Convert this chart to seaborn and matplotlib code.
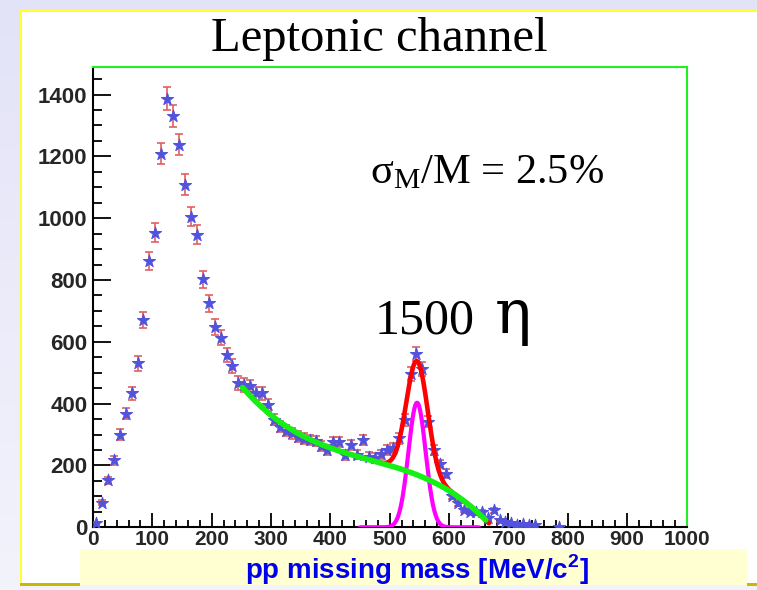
import numpy as np
import pandas as pd
import matplotlib
matplotlib.use("Agg")
import matplotlib.pyplot as plt
import seaborn as sns
from matplotlib.patches import Rectangle
from matplotlib.ticker import MultipleLocator
from matplotlib.colors import LinearSegmentedColormap

# ---- histogram: pp missing mass, 10 MeV bins (bin centre, counts) ----
bin_centers = [5, 15, 25, 35, 45, 55, 65, 75, 85, 95,
               105, 115, 125, 135, 145, 155, 165, 175, 185, 195,
               205, 215, 225, 235, 245, 255, 265, 275, 285, 295,
               305, 315, 325, 335, 345, 355, 365, 375, 385, 395,
               405, 415, 425, 435, 445, 455, 465, 475, 485, 495,
               505, 515, 525, 535, 545, 555, 565, 575, 585, 595,
               605, 615, 625, 635, 645, 655, 665, 675, 685, 695,
               705, 715, 725, 735, 745, 785]
counts = [14, 80, 152, 217, 300, 368, 434, 530, 672, 862,
          953, 1209, 1387, 1330, 1238, 1108, 1005, 946, 802, 725,
          649, 613, 557, 522, 467, 460, 456, 434, 434, 396,
          348, 326, 312, 304, 293, 287, 282, 280, 262, 250,
          276, 276, 234, 266, 235, 283, 228, 224, 236, 251,
          256, 288, 347, 495, 561, 511, 342, 250, 205, 174,
          100, 78, 56, 50, 48, 50, 29, 55, 23, 17,
          14, 6, 12, 6, 6, 1]

# ---- fit: polynomial background + gaussian eta peak ----
bkg_x = [253, 301, 349, 405, 461, 495, 540, 574, 619, 664]
bkg_y = [453, 357, 298, 255, 223, 206, 172, 147, 87, 23]
fit_range = (252, 667)
eta_mass = 546.0
total_amp, total_sigma = 368.0, 18.0      # red: background + signal
signal_amp, signal_sigma = 403.0, 14.5    # magenta: signal only
signal_range = (450, 650)

x_ticks = [0, 100, 200, 300, 400, 500, 600, 700, 800, 900, 1000]
x_tick_labels = ["0", "100", "200", "300", "400", "500", "600", "700", "800", "900", "1000"]
y_ticks = [0, 200, 400, 600, 800, 1000, 1200, 1400]
y_tick_labels = ["0", "200", "400", "600", "800", "1000", "1200", "1400"]

title = "Leptonic channel"
x_label = r"pp missing mass [MeV/c$^\mathregular{2}$]"
resolution_text = r"$\mathregular{\sigma_M}$/M = 2.5%"
yield_number = "1500"
yield_symbol = "η"

W, H = 757, 590
sns.set_theme(style="white")
plt.rcParams["font.family"] = ["Liberation Sans", "DejaVu Sans"]


def fx(px):
    return px / W


def fy(py):
    return 1 - py / H


fig = plt.figure(figsize=(W / 100, H / 100), dpi=100)

# slide-like backdrop
bg = fig.add_axes([0, 0, 1, 1], zorder=-10)
bg.axis("off")
bg.set_xlim(0, 1)
bg.set_ylim(0, 1)
grad = np.linspace(0, 1, 256)[:, None]
bg_cmap = LinearSegmentedColormap.from_list("bg", ["#e3e3f8", "#f3f3fc"])
bg.imshow(grad, aspect="auto", cmap=bg_cmap, extent=[0, 1, 0, 1], origin="upper")


def box(x0, y0, x1, y1, color):
    bg.add_patch(Rectangle((fx(x0), fy(y1)), fx(x1) - fx(x0), fy(y0) - fy(y1),
                           facecolor=color, edgecolor="none"))


box(20, 10, 760, 585, "white")
box(20, 10, 22, 585, "#ffff33")
box(20, 10, 760, 12, "#ffff33")
box(20, 583, 80, 586, "#c8b800")
box(747, 583, 760, 586, "#c8b800")
box(80, 548.5, 747, 584.5, "#ffffd2")

ax = fig.add_axes([fx(93), fy(527.3), fx(686.5) - fx(93), fy(66.7) - fy(527.3)])
ax.set_facecolor("white")

counts_arr = np.asarray(counts, dtype=float)
ax.errorbar(bin_centers, counts, yerr=np.sqrt(counts_arr), fmt="none",
            ecolor="#e06060", elinewidth=1.2, capsize=2.8, capthick=1.2, zorder=2)
hist_df = pd.DataFrame({"mass": bin_centers, "counts": counts})
sns.scatterplot(data=hist_df, x="mass", y="counts", marker="*", s=85,
                color="#5252dc", edgecolor="#5252dc", linewidth=0.7, ax=ax, zorder=3)

# fitted curves
coef = np.polyfit(bkg_x, bkg_y, 3)
xf = np.linspace(fit_range[0], fit_range[1], 400)
bkg_curve = np.polyval(coef, xf)
total_curve = bkg_curve + total_amp * np.exp(-0.5 * ((xf - eta_mass) / total_sigma) ** 2)
xs = np.linspace(signal_range[0], signal_range[1], 300)
signal_curve = signal_amp * np.exp(-0.5 * ((xs - eta_mass) / signal_sigma) ** 2)

sns.lineplot(x=xf, y=total_curve, color="#ff0000", lw=3.3, ax=ax, zorder=4,
             estimator=None, sort=False, solid_capstyle="round")
sns.lineplot(x=xs, y=signal_curve, color="#ff00ff", lw=3.0, ax=ax, zorder=5,
             estimator=None, sort=False)
xb = xf[xf <= fit_range[1] - 5]
sns.lineplot(x=xb, y=np.polyval(coef, xb), color="#14f014", lw=4.0, ax=ax, zorder=6,
             estimator=None, sort=False)

ax.set_xlim(0, 1000)
ax.set_ylim(0, 1490)
ax.set_xlabel("")
ax.set_ylabel("")
ax.set_xticks(x_ticks)
ax.set_xticklabels(x_tick_labels, fontweight="bold", fontsize=15)
ax.set_yticks(y_ticks)
ax.set_yticklabels(y_tick_labels, fontweight="bold", fontsize=16)
ax.xaxis.set_minor_locator(MultipleLocator(20))
ax.yaxis.set_minor_locator(MultipleLocator(50))
ax.tick_params(which="both", bottom=True, left=True, top=False, right=False,
               direction="in", color="black", width=1.3)
ax.tick_params(axis="y", which="major", length=13, pad=4)
ax.tick_params(axis="y", which="minor", length=6.5)
ax.tick_params(axis="x", which="major", length=10, pad=2)
ax.tick_params(axis="x", which="minor", length=5)
for side in ("left", "bottom"):
    ax.spines[side].set_color("black")
    ax.spines[side].set_linewidth(1.5)
for side in ("top", "right"):
    ax.spines[side].set_color("#22ee22")
    ax.spines[side].set_linewidth(1.5)

fig.text(fx(379), fy(51), title, ha="center", va="baseline", fontsize=35,
         family="Liberation Serif", color="black")
fig.text(fx(370), fy(183), resolution_text, ha="left", va="baseline", fontsize=30.5,
         family="Liberation Serif", color="black")
fig.text(fx(375), fy(333), yield_number, ha="left", va="baseline", fontsize=36,
         family="Liberation Serif", color="black")
fig.text(fx(495), fy(333), yield_symbol, ha="left", va="baseline", fontsize=44,
         family="DejaVu Serif", color="black")
fig.text(fx(417), fy(579), x_label, ha="center", va="baseline", fontsize=20,
         fontweight="bold", color="#0000ee")

fig.savefig("out.png", dpi=100)
